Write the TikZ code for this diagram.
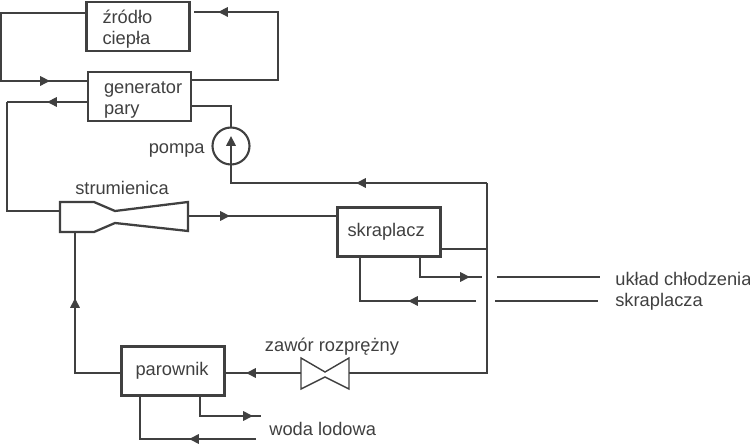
\documentclass[tikz,border=0pt]{standalone}
\usepackage{fontspec}
\setmainfont{Liberation Sans}
\usepackage{xcolor}
\usetikzlibrary{arrows.meta}
\definecolor{inkgray}{RGB}{64,64,64}

\begin{document}
\begin{tikzpicture}[
    x=0.02cm, y=-0.02cm,
    font=\fontsize{10.4}{12}\selectfont,
    text=inkgray,
    block/.style={rectangle, draw=inkgray, line width=1.3pt, outer sep=0pt, minimum width=2.06cm, minimum height=0.98cm, align=left},
    twoline/.style={block, text width=1.42cm, inner xsep=0.32cm, inner ysep=0pt, execute at begin node={\rule{0pt}{11.2pt}}},
    label/.style={inner sep=0pt},
    wire/.style={draw=inkgray, line width=0.8pt},
    arrow/.style={wire, -{Triangle[length=5.6pt, width=5.4pt]}}
]
    \useasboundingbox (0,0) rectangle (750,445);

    % Heat source and generator
    \node[twoline] (source) at (138,26.5) {źródło\\ciepła};
    \node[twoline] (gen) at (139.5,96.5) {generator\\pary};

    % Pump
    \node[circle, draw=inkgray, line width=1.2pt, minimum size=0.74cm, inner sep=0pt, outer sep=0pt] (pump) at (231,146) {};
    \node[label, anchor=east] (pumpname) at (205,150) {pompa};

    % Ejector
    \node[label] (ejname) at (122,188) {strumienica};
    \draw[draw=inkgray, line width=1.3pt] (60,202) -- (94,202) -- (115,211) -- (188,202)
        -- (188,231) -- (115,223) -- (94,232) -- (60,232) -- cycle;
    \coordinate (ejin) at (60,211);
    \coordinate (ejout) at (188,216);
    \coordinate (ejlow) at (75,232);

    % Condenser
    \node[block, text width=1.66cm, inner xsep=0.2cm] (cond) at (389,232) {skraplacz};

    % Evaporator
    \node[block, text width=1.5cm, inner xsep=0.28cm] (evap) at (173,371) {parownik};

    % Expansion valve
    \node[label] (valvename) at (332,347) {zawór rozprężny};
    \draw[draw=inkgray, line width=0.8pt] (301,358) -- (325,372) -- (349,358) -- (349,389) -- (325,377) -- (301,389) -- cycle;
    \coordinate (valveL) at (301,373);
    \coordinate (valveR) at (349,373);

    % Labels on the right
    \node[label, anchor=west] (cool1) at (615,279) {układ chłodzenia};
    \node[label, anchor=west] (cool2) at (615,302) {skraplacza};
    \node[label, anchor=west] (water) at (269,429) {woda lodowa};

    % Source loop
    \draw[wire] (source.west |- 0,13) -- (1,13) -- (1,81) -- (gen.west |- 0,81);
    \draw[arrow] (1,81) -- (50,81);
    \draw[wire] (gen.east |- 0,80) -- (278,80) -- (278,12) -- (194,12);
    \draw[arrow] (278,12) -- (218,12);

    % Generator to ejector
    \draw[wire] (7,102) -- (7,211) -- (ejin);
    \draw[wire] (gen.west |- 0,102) -- (7,102);
    \draw[arrow] (gen.west |- 0,102) -- (47,102);

    % Pump circuit
    \draw[wire] (gen.east |- 0,106) -- (231,106) -- (pump.north);
    \draw[wire] (487,183) -- (231,183) -- (pump.south);
    \draw[arrow] (pump.south) -- (231,136);
    \draw[arrow] (487,183) -- (356,183);

    % Ejector to condenser
    \draw[wire] (ejout) -- (cond.west |- 0,216);
    \draw[arrow] (ejout) -- (230,216);

    % Condenser outlet
    \draw[wire] (487,183) -- (487,373) -- (valveR);
    \draw[wire] (cond.east |- 0,249) -- (487,249);
    \draw[wire] (valveL) -- (evap.east |- 0,373);
    \draw[arrow] (valveL) -- (246,373);

    % Evaporator to ejector
    \draw[wire] (evap.west |- 0,373) -- (75,373) -- (ejlow);
    \draw[arrow] (75,373) -- (75,298);

    % Cooling of condenser
    \draw[wire] (cond.south -| 420,0) -- (420,277) -- (482,277);
    \draw[arrow] (420,277) -- (470,277);
    \draw[wire] (cond.south -| 360,0) -- (360,301) -- (476,301);
    \draw[arrow] (476,301) -- (408,301);
    \draw[wire] (497,277) -- (600,277);
    \draw[wire] (495,301) -- (598,301);

    % Chilled water
    \draw[wire] (evap.south -| 200,0) -- (200,416) -- (261,416);
    \draw[arrow] (200,416) -- (253,416);
    \draw[wire] (evap.south -| 140,0) -- (140,439) -- (256,439);
    \draw[arrow] (256,439) -- (189,439);
\end{tikzpicture}
\end{document}
